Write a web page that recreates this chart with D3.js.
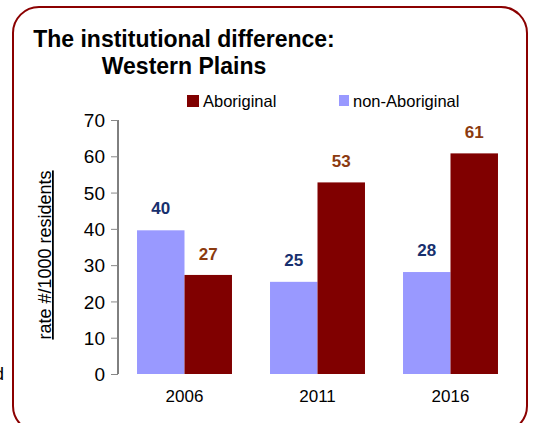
<!DOCTYPE html>
<html>
<head>
<meta charset="utf-8">
<script src="https://cdn.jsdelivr.net/npm/d3@7"></script>
<style>
  html, body { margin: 0; padding: 0; background: #fff; overflow: hidden; }
  text { font-family: Arial, "Liberation Sans", sans-serif; }
</style>
</head>
<body>
<svg id="chart"></svg>
<script>
const years = ['2006', '2011', '2016']
const aboriginal = [27.3, 52.8, 60.8]
const nonAboriginal = [39.6, 25.4, 28.1]
const aboriginalLabels = ['27', '53', '61']
const nonAboriginalLabels = ['40', '25', '28']
const yTicks = [0, 10, 20, 30, 40, 50, 60, 70]
const seriesNames = ['Aboriginal', 'non-Aboriginal']

const width = 535
const height = 423
const colors = { ab: '#800000', nonAb: '#9999ff', abLabel: '#8b3a0f', nonAbLabel: '#17306e' }

const svg = d3.select('#chart')
  .attr('width', width)
  .attr('height', height)

// frame
svg.append('rect')
  .attr('x', 13).attr('y', 7)
  .attr('width', 514).attr('height', 425)
  .attr('rx', 26).attr('ry', 26)
  .attr('fill', 'none')
  .attr('stroke', '#8b0000')
  .attr('stroke-width', 2)

// stray glyph at the left edge
svg.append('text')
  .attr('x', -6).attr('y', 380)
  .attr('font-size', 18)
  .text('d')

// title
svg.append('text')
  .attr('x', 184).attr('y', 47)
  .attr('text-anchor', 'middle')
  .attr('font-size', 23).attr('font-weight', 'bold')
  .text('The institutional difference:')
svg.append('text')
  .attr('x', 184).attr('y', 74)
  .attr('text-anchor', 'middle')
  .attr('font-size', 23).attr('font-weight', 'bold')
  .text('Western Plains')

const x = d3.scaleBand()
  .domain(years)
  .range([118, 517])
  .paddingInner(0.286)
  .paddingOuter(0.143)

const y = d3.scaleLinear()
  .domain([0, 70])
  .range([374, 120])

const bw = x.bandwidth() / 2

// y axis
const yAxis = svg.append('g')
  .attr('transform', 'translate(118,0)')
  .call(d3.axisLeft(y).tickValues(yTicks).tickSize(7).tickPadding(6))
yAxis.select('.domain').attr('stroke', '#000').attr('d', `M0,${y(70)}V${y(0)}`)
yAxis.selectAll('.tick line').attr('stroke', '#888')
yAxis.selectAll('.tick text')
  .attr('font-size', 19)
  .attr('font-family', 'Arial, "Liberation Sans", sans-serif')
  .attr('fill', '#000')
  .attr('dy', '0.35em')

// y label
svg.append('text')
  .attr('transform', `translate(51,${(y(0) + y(70)) / 2 + 8}) rotate(-90)`)
  .attr('text-anchor', 'middle')
  .attr('font-size', 18)
  .attr('text-decoration', 'underline')
  .text('rate #/1000 residents')

// bars
const groups = svg.append('g')
  .selectAll('g')
  .data(years)
  .join('g')

groups.append('rect')
  .attr('x', (d) => x(d))
  .attr('y', (d, i) => y(nonAboriginal[i]))
  .attr('width', bw)
  .attr('height', (d, i) => y(0) - y(nonAboriginal[i]))
  .attr('fill', colors.nonAb)

groups.append('rect')
  .attr('x', (d) => x(d) + bw)
  .attr('y', (d, i) => y(aboriginal[i]))
  .attr('width', bw)
  .attr('height', (d, i) => y(0) - y(aboriginal[i]))
  .attr('fill', colors.ab)

groups.append('text')
  .attr('x', (d) => x(d) + bw / 2)
  .attr('y', (d, i) => y(nonAboriginal[i]) - 16)
  .attr('text-anchor', 'middle')
  .attr('font-size', 17).attr('font-weight', 'bold')
  .attr('fill', colors.nonAbLabel)
  .text((d, i) => nonAboriginalLabels[i])

groups.append('text')
  .attr('x', (d) => x(d) + bw * 1.5)
  .attr('y', (d, i) => y(aboriginal[i]) - 15)
  .attr('text-anchor', 'middle')
  .attr('font-size', 17).attr('font-weight', 'bold')
  .attr('fill', colors.abLabel)
  .text((d, i) => aboriginalLabels[i])

// x labels
groups.append('text')
  .attr('x', (d) => x(d) + bw)
  .attr('y', 402)
  .attr('text-anchor', 'middle')
  .attr('font-size', 17)
  .text((d) => d)

// legend
const legend = svg.append('g')
  .selectAll('g')
  .data(seriesNames)
  .join('g')
  .attr('transform', (d, i) => `translate(${[187, 339][i]},95)`)

legend.append('rect')
  .attr('width', (d, i) => i ? 10 : 12)
  .attr('height', (d, i) => i ? 11 : 12)
  .attr('fill', (d, i) => i ? colors.nonAb : colors.ab)

legend.append('text')
  .attr('x', (d, i) => i ? 14 : 16)
  .attr('y', 12)
  .attr('font-size', 16.5)
  .text((d) => d)
</script>
</body>
</html>
